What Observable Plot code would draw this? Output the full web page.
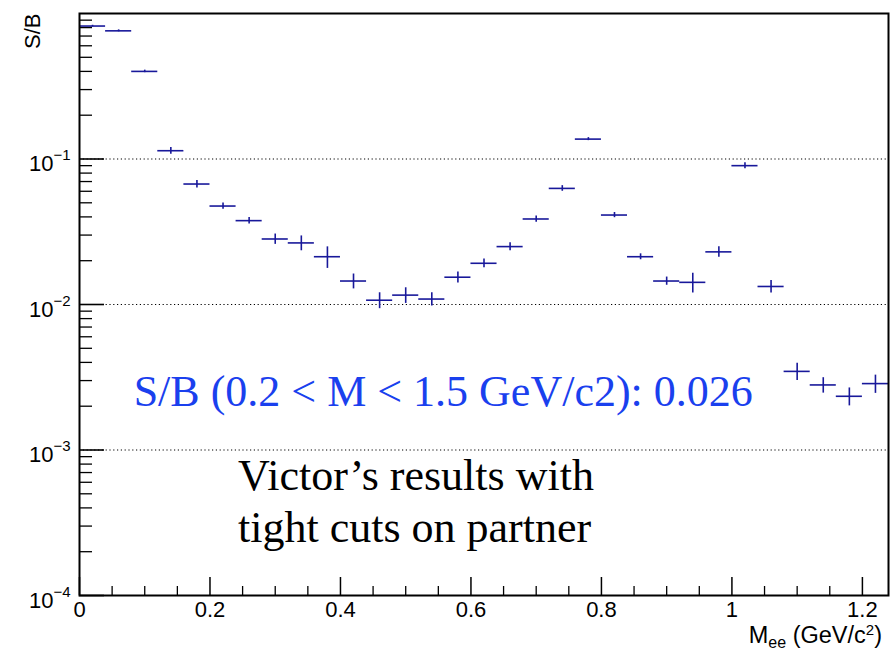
<!DOCTYPE html>
<html><head><meta charset="utf-8">
<script src="https://cdn.jsdelivr.net/npm/d3@7"></script>
<script src="https://cdn.jsdelivr.net/npm/@observablehq/plot@0.6"></script>
<style>body{margin:0;background:#fff}</style>
</head><body><div id="chart"></div>
<script>
// Bin centres of M_ee (GeV/c^2), bin width 0.04
const massBins = [0.02,0.06,0.10,0.14,0.18,0.22,0.26,0.30,0.34,0.38,0.42,0.46,0.50,0.54,0.58,0.62,0.66,0.70,0.74,0.78,0.82,0.86,0.90,0.94,0.98,1.02,1.06,1.10,1.14,1.18,1.22];
const binWidth = 0.04;
const sbValues = [0.82,0.76,0.40,0.114,0.0673,0.0475,0.0377,0.0282,0.0265,0.0213,0.0145,0.0107,0.0116,0.0109,0.0154,0.0192,0.0250,0.0387,0.0628,0.137,0.0412,0.0213,0.0145,0.0142,0.0230,0.090,0.0133,0.00347,0.0028,0.00234,0.00286];
const sbErrors = [0.010,0.012,0.008,0.006,0.004,0.0023,0.002,0.0023,0.0031,0.0036,0.0017,0.00134,0.00143,0.00114,0.00132,0.00132,0.0016,0.0019,0.0028,0.0033,0.0017,0.0010,0.00094,0.0022,0.0019,0.0044,0.0013,0.00047,0.00034,0.00033,0.00041];

const xMajorTicks = [0,0.2,0.4,0.6,0.8,1.0,1.2];
const xMinorTicks = [0.05,0.1,0.15,0.25,0.3,0.35,0.45,0.5,0.55,0.65,0.7,0.75,0.85,0.9,0.95,1.05,1.1,1.15];
const yDecades = [1e-4,1e-3,1e-2,1e-1];
const yDecadeExponents = ["\u22124","\u22123","\u22122","\u22121"];
const yGridLines = [1e-3,1e-2,1e-1];
const yMinorTicks = [];
for (const dec of [1e-4,1e-3,1e-2,1e-1]) for (let k = 2; k <= 9; k++) yMinorTicks.push(k*dec);

const annotations = [
  {x: 0.083, y: 0.0020, text: "S/B (0.2 < M < 1.5 GeV/c2): 0.026", color: "#1a40ee"},
  {x: 0.243, y: 2.32e-4, text: "Victor\u2019s results with\ntight cuts on partner", color: "#000000"}
];

const W = 894, H = 657, mL = 79, mR = 6, mT = 13, mB = 62;
const plotW = W - mL - mR, plotH = H - mT - mB;
const pointColor = "#18189a";
const sans = "'Liberation Sans', Arial, Helvetica, sans-serif";
const serif = "'Liberation Serif', 'Times New Roman', serif";

const data = massBins.map((m, i) => ({m, v: sbValues[i], e: sbErrors[i]}));

const chart = Plot.plot({
  width: W, height: H,
  marginLeft: mL, marginRight: mR, marginTop: mT, marginBottom: mB,
  style: {fontFamily: sans, fontSize: "22px", background: "#fff", color: "#000"},
  x: {domain: [0, 1.24], axis: null},
  y: {type: "log", domain: [1e-4, 1], axis: null},
  marks: [
    Plot.ruleY(yGridLines, {y: d => d, stroke: "#000", strokeWidth: 1.2, strokeDasharray: "1.2,2.6"}),
    Plot.ruleY(data, {y: "v", x1: d => d.m - binWidth/2, x2: d => d.m + binWidth/2, stroke: pointColor, strokeWidth: 1.6}),
    Plot.ruleX(data, {x: "m", y1: d => d.v - d.e, y2: d => d.v + d.e, stroke: pointColor, strokeWidth: 1.6}),
    Plot.tickY(yDecades, {y: d => d, insetRight: plotW - 25, stroke: "#000", strokeWidth: 1.6}),
    Plot.tickY(yMinorTicks, {y: d => d, insetRight: plotW - 13, stroke: "#000", strokeWidth: 1.3}),
    Plot.tickX(xMajorTicks, {x: d => d, insetTop: plotH - 18, stroke: "#000", strokeWidth: 1.5}),
    Plot.tickX(xMinorTicks, {x: d => d, insetTop: plotH - 9, stroke: "#000", strokeWidth: 1.3}),
    Plot.frame({stroke: "#000", strokeWidth: 2}),
    Plot.axisX(xMajorTicks, {anchor: "bottom", tickSize: 0, tickPadding: 6, fontSize: 22, tickFormat: d => d3.format("~g")(d)}),
    Plot.text(yDecades, {y: d => d, text: () => "10", frameAnchor: "left", textAnchor: "end", lineAnchor: "bottom", dx: -26, dy: 12, fontSize: 22}),
    Plot.text(yDecades, {y: d => d, text: (d, i) => yDecadeExponents[i], frameAnchor: "left", textAnchor: "start", lineAnchor: "bottom", dx: -26, dy: 1, fontSize: 15}),
    Plot.text(["S/B"], {frameAnchor: "top-left", text: d => d, rotate: -90, textAnchor: "end", dx: -55, dy: 0, fontSize: 22}),
    Plot.text(annotations, {x: "x", y: "y", text: "text", fill: "color", textAnchor: "start", lineAnchor: "bottom", lineHeight: 1.18, fontSize: 44, fontFamily: serif})
  ]
});

// Axis title with subscript / superscript
const svg = d3.select(chart);
const t = svg.append("text")
  .attr("x", 882).attr("y", 643)
  .attr("text-anchor", "end")
  .attr("font-family", sans).attr("font-size", 23.5).attr("fill", "#000");
t.append("tspan").text("M");
t.append("tspan").attr("font-size", 16).attr("dy", 5).text("ee");
t.append("tspan").attr("dy", -5).text(" (GeV/c");
t.append("tspan").attr("font-size", 15).attr("dy", -8).text("2");
t.append("tspan").attr("dy", 8).text(")");

document.getElementById("chart").append(chart);
</script>
</body></html>
